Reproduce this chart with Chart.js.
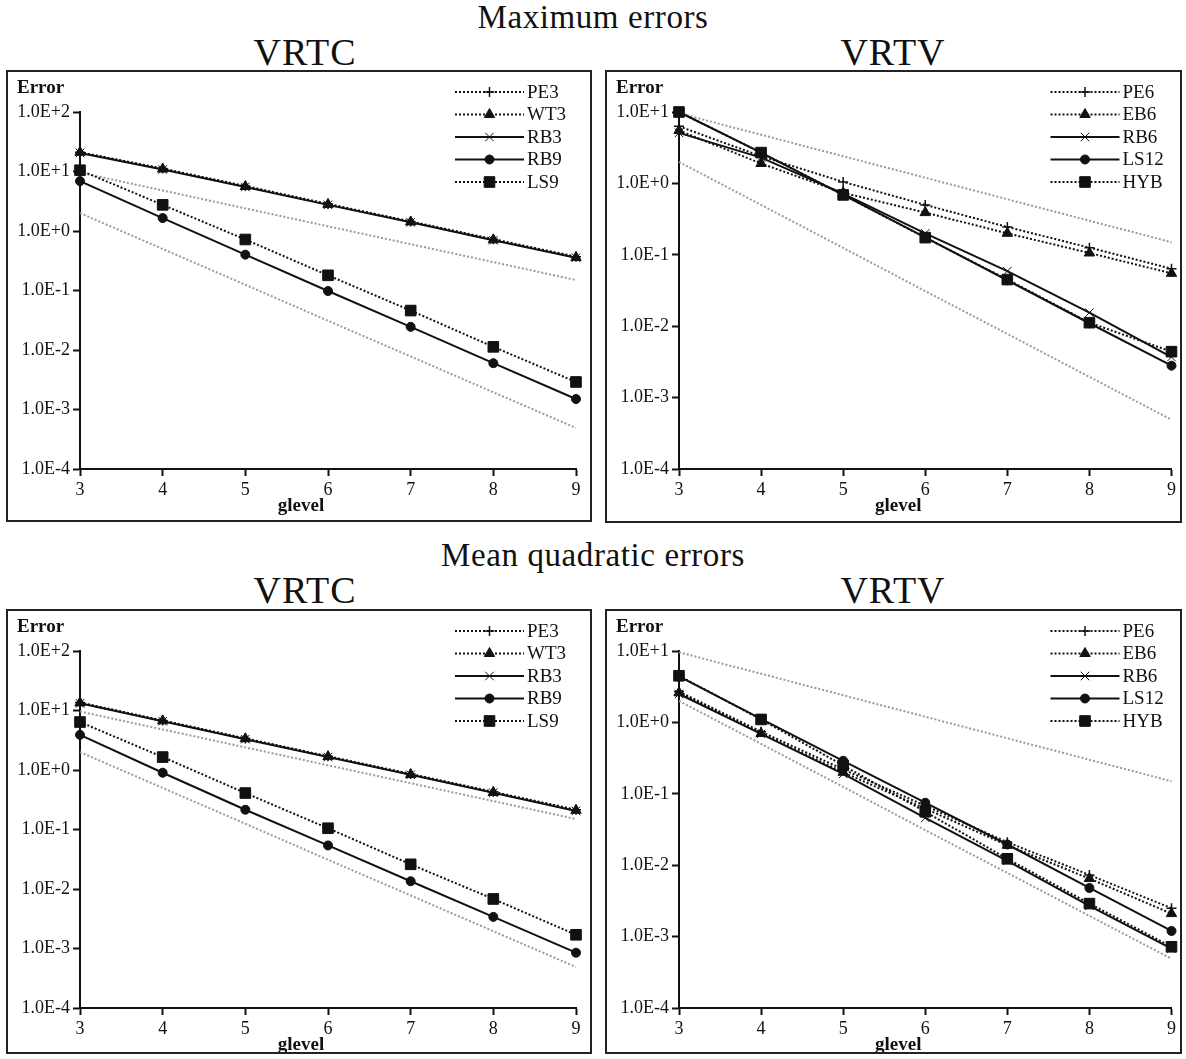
<!DOCTYPE html>
<html>
<head>
<meta charset="utf-8">
<script src="https://cdn.jsdelivr.net/npm/chart.js@4.4.0/dist/chart.umd.min.js"></script>
<style>
  body { margin: 0; background: #fff; font-family: "Liberation Serif", serif; color: #111; }
  #pagina { position: relative; width: 1186px; height: 1059px; }
  .titulo { position: absolute; left: 0; width: 1186px; text-align: center; font-size: 33px; line-height: 34px; letter-spacing: 0.6px; }
  .sub { position: absolute; width: 400px; text-align: center; font-size: 38px; line-height: 38px; letter-spacing: 1px; }
  .painel { position: absolute; border: 2px solid #222; box-sizing: border-box; }
  .painel div { position: relative; width: 100%; height: 100%; }
</style>
</head>
<body>
<div id="pagina">
  <div class="titulo" style="top:0px">Maximum errors</div>
  <div class="sub" style="left:105px; top:33px">VRTC</div>
  <div class="sub" style="left:693px; top:33px">VRTV</div>
  <div class="painel" style="left:6px; top:70px; width:586px; height:452px"><div><canvas id="maxVrtc"></canvas></div></div>
  <div class="painel" style="left:605px; top:70px; width:577px; height:453px"><div><canvas id="maxVrtv"></canvas></div></div>

  <div class="titulo" style="top:538px">Mean quadratic errors</div>
  <div class="sub" style="left:105px; top:571px">VRTC</div>
  <div class="sub" style="left:693px; top:571px">VRTV</div>
  <div class="painel" style="left:6px; top:609px; width:586px; height:445px"><div><canvas id="mqVrtc"></canvas></div></div>
  <div class="painel" style="left:605px; top:609px; width:577px; height:445px"><div><canvas id="mqVrtv"></canvas></div></div>
</div>

<script>
const glevels = [3, 4, 5, 6, 7, 8, 9];
const ticksVrtc = [1e-4, 1e-3, 1e-2, 1e-1, 1, 10, 100];
const ticksVrtv = [1e-4, 1e-3, 1e-2, 1e-1, 1, 10];

// retas de referência (ordem 1 e ordem 2), em cinza
const refOrdem1 = [9.6, 4.8, 2.4, 1.2, 0.6, 0.3, 0.15];
const refOrdem2 = [2.0, 0.5, 0.125, 0.031, 0.0078, 0.00195, 0.00049];

// erros máximos - VRTC
const maxPE3 = [21, 11.2, 5.7, 2.85, 1.45, 0.73, 0.37];
const maxWT3 = [21, 11, 5.6, 2.8, 1.42, 0.71, 0.36];
const maxRB3 = [20.5, 10.8, 5.5, 2.75, 1.4, 0.7, 0.355];
const maxRB9 = [6.9, 1.65, 0.40, 0.098, 0.0245, 0.006, 0.0015];
const maxLS9 = [10.5, 2.75, 0.72, 0.18, 0.046, 0.0113, 0.0029];

// erros máximos - VRTV
const maxPE6 = [6.3, 2.4, 1.05, 0.5, 0.245, 0.126, 0.064];
const maxEB6 = [5.5, 1.9, 0.74, 0.39, 0.2, 0.106, 0.055];
const maxRB6 = [5.1, 2.3, 0.72, 0.2, 0.059, 0.0155, 0.0037];
const maxLS12 = [10, 2.7, 0.69, 0.175, 0.044, 0.011, 0.0028];
const maxHYB = [10, 2.7, 0.69, 0.174, 0.045, 0.0112, 0.0044];

// erros quadráticos médios - VRTC
const mqPE3 = [13.6, 6.8, 3.4, 1.7, 0.86, 0.43, 0.215];
const mqWT3 = [13.4, 6.7, 3.35, 1.68, 0.84, 0.42, 0.21];
const mqRB3 = [13.2, 6.6, 3.3, 1.65, 0.83, 0.415, 0.205];
const mqRB9 = [3.9, 0.9, 0.215, 0.054, 0.0135, 0.0034, 0.00085];
const mqLS9 = [6.4, 1.65, 0.41, 0.105, 0.026, 0.0068, 0.0017];

// erros quadráticos médios - VRTV
const mqPE6 = [2.7, 0.74, 0.22, 0.068, 0.021, 0.0073, 0.0025];
const mqEB6 = [2.6, 0.70, 0.20, 0.062, 0.019, 0.0065, 0.0021];
const mqRB6 = [2.5, 0.69, 0.19, 0.046, 0.0115, 0.0027, 0.00068];
const mqLS12 = [4.4, 1.12, 0.29, 0.075, 0.0195, 0.0048, 0.0012];
const mqHYB = [4.5, 1.1, 0.25, 0.056, 0.0123, 0.0029, 0.00072];

const FONTE = '"Liberation Serif", serif';
Chart.defaults.font.family = FONTE;
Chart.defaults.color = '#111';

// estilos de marcador por tipo de método
const estilos = {
  mais:      { pointStyle: 'cross', pointRadius: 5, pointBorderWidth: 1.5, tracejado: true, ordem: 3 },
  triangulo: { pointStyle: 'triangle', pointRadius: 6, pointBorderWidth: 1, tracejado: true, ordem: 2 },
  xis:       { pointStyle: 'crossRot', pointRadius: 6, pointBorderWidth: 1, tracejado: false, ordem: 4 },
  circulo:   { pointStyle: 'circle', pointRadius: 4.5, pointBorderWidth: 1, tracejado: false, ordem: 1 },
  quadrado:  { pointStyle: 'rect', pointRadius: 7.5, pointBorderWidth: 1, tracejado: true, ordem: 0 }
};

function serie(rotulo, valores, tipo) {
  const e = estilos[tipo];
  return {
    label: rotulo,
    data: glevels.map((g, i) => ({ x: g, y: valores[i] })),
    borderColor: '#111',
    backgroundColor: '#111',
    borderWidth: 2,
    borderDash: e.tracejado ? [2, 2] : [],
    pointStyle: e.pointStyle,
    pointRadius: e.pointRadius,
    pointBorderWidth: e.pointBorderWidth,
    pointBackgroundColor: '#111',
    pointBorderColor: '#111',
    order: e.ordem,
    clip: false
  };
}

function referencia(valores) {
  return {
    data: glevels.map((g, i) => ({ x: g, y: valores[i] })),
    borderColor: '#9a9a9a',
    borderWidth: 2,
    borderDash: [2, 2],
    pointRadius: 0,
    order: 10,
    clip: false
  };
}

// "Error", "glevel" e a legenda (linha + marcador + texto)
const extras = {
  id: 'extras',
  afterDraw(chart) {
    const ctx = chart.ctx;
    const a = chart.chartArea;
    ctx.save();
    ctx.fillStyle = '#111';
    ctx.textBaseline = 'middle';
    ctx.font = 'bold 19px ' + FONTE;
    ctx.fillText('Error', a.left - 63, a.top - 24);
    ctx.textAlign = 'center';
    ctx.fillText('glevel', (a.left + a.right) / 2 - 27, a.bottom + 37);

    ctx.textAlign = 'left';
    ctx.font = '19px ' + FONTE;
    const itens = chart.data.datasets.filter(d => d.label);
    itens.forEach((d, i) => {
      const y = a.top - 20 + i * 22.5;
      const x0 = a.right - 121, x1 = a.right - 52;
      ctx.strokeStyle = '#111';
      ctx.lineWidth = 2;
      ctx.setLineDash(d.borderDash);
      ctx.beginPath();
      ctx.moveTo(x0, y);
      ctx.lineTo(x1, y);
      ctx.stroke();
      ctx.setLineDash([]);
      ctx.fillStyle = '#111';
      ctx.lineWidth = d.pointBorderWidth;
      Chart.helpers.drawPoint(ctx, {
        pointStyle: d.pointStyle, radius: d.pointRadius, rotation: 0, borderWidth: d.pointBorderWidth
      }, (x0 + x1) / 2, y);
      ctx.fillText(d.label, a.right - 49, y + 1);
    });
    ctx.restore();
  }
};

function criarGrafico(id, ticksY, datasets, alturaEixoX, margemDir) {
  new Chart(document.getElementById(id), {
    type: 'line',
    data: { datasets },
    options: {
      responsive: true,
      maintainAspectRatio: false,
      animation: false,
      layout: { padding: { top: 40, right: margemDir, left: 0, bottom: 0 } },
      plugins: { legend: { display: false }, tooltip: { enabled: false } },
      scales: {
        x: {
          type: 'linear',
          min: 3,
          max: 9,
          afterBuildTicks: s => { s.ticks = glevels.map(v => ({ value: v })); },
          afterFit: s => { s.height = alturaEixoX; s.paddingLeft = 0; s.paddingRight = 0; },
          border: { display: true, color: '#111', width: 2 },
          grid: { drawOnChartArea: false, drawTicks: true, tickLength: 7, tickWidth: 2, tickColor: '#111' },
          ticks: { font: { size: 18 }, padding: 3, maxRotation: 0 }
        },
        y: {
          type: 'logarithmic',
          min: ticksY[0],
          max: ticksY[ticksY.length - 1],
          afterBuildTicks: s => { s.ticks = ticksY.map(v => ({ value: v })); },
          afterFit: s => { s.width = 72; },
          border: { display: true, color: '#111', width: 2 },
          grid: { drawOnChartArea: false, drawTicks: true, tickLength: 7, tickWidth: 2, tickColor: '#111' },
          ticks: { font: { size: 18 }, padding: 3, callback: v => Number(v).toExponential(1).toUpperCase() }
        }
      }
    },
    plugins: [extras]
  });
}

criarGrafico('maxVrtc', ticksVrtc, [
  serie('PE3', maxPE3, 'mais'),
  serie('WT3', maxWT3, 'triangulo'),
  serie('RB3', maxRB3, 'xis'),
  serie('RB9', maxRB9, 'circulo'),
  serie('LS9', maxLS9, 'quadrado'),
  referencia(refOrdem1),
  referencia(refOrdem2)
], 51, 14);

criarGrafico('maxVrtv', ticksVrtv, [
  serie('PE6', maxPE6, 'mais'),
  serie('EB6', maxEB6, 'triangulo'),
  serie('RB6', maxRB6, 'xis'),
  serie('LS12', maxLS12, 'circulo'),
  serie('HYB', maxHYB, 'quadrado'),
  referencia(refOrdem1),
  referencia(refOrdem2)
], 52, 5);

criarGrafico('mqVrtc', ticksVrtc, [
  serie('PE3', mqPE3, 'mais'),
  serie('WT3', mqWT3, 'triangulo'),
  serie('RB3', mqRB3, 'xis'),
  serie('RB9', mqRB9, 'circulo'),
  serie('LS9', mqLS9, 'quadrado'),
  referencia(refOrdem1),
  referencia(refOrdem2)
], 44, 14);

criarGrafico('mqVrtv', ticksVrtv, [
  serie('PE6', mqPE6, 'mais'),
  serie('EB6', mqEB6, 'triangulo'),
  serie('RB6', mqRB6, 'xis'),
  serie('LS12', mqLS12, 'circulo'),
  serie('HYB', mqHYB, 'quadrado'),
  referencia(refOrdem1),
  referencia(refOrdem2)
], 44, 5);
</script>
</body>
</html>
